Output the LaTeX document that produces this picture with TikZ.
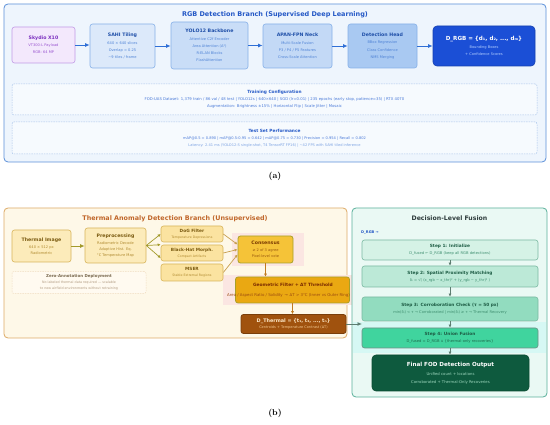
\documentclass[tikz,border=0pt]{standalone}
\usepackage{fontspec}
\newfontfamily\dvs{DejaVu Sans}
\usetikzlibrary{arrows.meta,calc}
% top
\definecolor{rgbbg}{HTML}{EEF5FD}
\definecolor{rgbborder}{HTML}{5B8FD9}
\definecolor{rgbtitle}{HTML}{2458C6}
\definecolor{skyfill}{HTML}{F3E8FC}
\definecolor{skyborder}{HTML}{C19BE6}
\definecolor{skytext}{HTML}{7B2FBF}
\definecolor{skysub}{HTML}{9A55D0}
\definecolor{bfillA}{HTML}{DCE9FA}
\definecolor{bfillB}{HTML}{C9DDF7}
\definecolor{bfillC}{HTML}{C3D9F6}
\definecolor{bfillD}{HTML}{A9C9F2}
\definecolor{bborder}{HTML}{86B0E8}
\definecolor{btitle}{HTML}{1F4FA8}
\definecolor{bsub}{HTML}{4F83D6}
\definecolor{drgbfill}{HTML}{1B4FD6}
\definecolor{drgbborder}{HTML}{1540B0}
\definecolor{drgbsub}{HTML}{B4CFFF}
\definecolor{arrblue}{HTML}{2F6FD6}
\definecolor{dashfill}{HTML}{F6FAFE}
\definecolor{dashborder}{HTML}{A8C4EA}
\definecolor{dashtext}{HTML}{4A7AD8}
\definecolor{dashlight}{HTML}{7CA2E2}
% thermal
\definecolor{thbg}{HTML}{FEF8E8}
\definecolor{thborder}{HTML}{DDAA66}
\definecolor{thtitle}{HTML}{C0662A}
\definecolor{tfillA}{HTML}{FCEBBA}
\definecolor{tborderA}{HTML}{D8B45A}
\definecolor{ttitleA}{HTML}{7A5A10}
\definecolor{tsubA}{HTML}{B08A30}
\definecolor{tfillB}{HTML}{FBE3A0}
\definecolor{consfill}{HTML}{F5C338}
\definecolor{consborder}{HTML}{A8A028}
\definecolor{constitle}{HTML}{7A3A00}
\definecolor{conssub}{HTML}{9A5A10}
\definecolor{geofill}{HTML}{EAA812}
\definecolor{geotitle}{HTML}{7A2A00}
\definecolor{geosubc}{HTML}{9A4A10}
\definecolor{dthfill}{HTML}{A0520E}
\definecolor{dthborder}{HTML}{7A3E0A}
\definecolor{dthtext}{HTML}{FDE8C8}
\definecolor{dthsub}{HTML}{F2C890}
\definecolor{arrolive}{HTML}{A39A2A}
\definecolor{arrtan}{HTML}{C8A050}
\definecolor{arrorange}{HTML}{C07A20}
\definecolor{pinkhl}{HTML}{FBE6E2}
\definecolor{zfill}{HTML}{FFFAF0}
\definecolor{zborder}{HTML}{F0DCC0}
\definecolor{ztitle}{HTML}{7A6A50}
\definecolor{ztext}{HTML}{B09A80}
% fusion
\definecolor{fubg}{HTML}{EAF9F4}
\definecolor{fuborder}{HTML}{5AB09A}
\definecolor{futitle}{HTML}{2D3B3B}
\definecolor{fuband}{HTML}{D6F8F4}
\definecolor{sfillA}{HTML}{D5F2E6}
\definecolor{sfillB}{HTML}{BCE9D7}
\definecolor{sfillC}{HTML}{92DCBF}
\definecolor{sfillD}{HTML}{40D49E}
\definecolor{sborder}{HTML}{7BB9A2}
\definecolor{sborderD}{HTML}{6F8F85}
\definecolor{stitle}{HTML}{1D5C44}
\definecolor{ssub}{HTML}{3F8F70}
\definecolor{ssubD}{HTML}{1D6A4C}
\definecolor{arrgreen}{HTML}{5D7D70}
\definecolor{finfill}{HTML}{0E5A3E}
\definecolor{finborder}{HTML}{0A4A30}
\definecolor{finsub}{HTML}{9ED8BE}
\newcommand\myT{\fontsize{4.7}{6}\selectfont\bfseries}
\newcommand\myTs{\fontsize{4.3}{6}\selectfont\bfseries}
\newcommand\myS{\fontsize{3.6}{7.2}\selectfont}
\newcommand\myX{\fontsize{3.2}{6}\selectfont}
\begin{document}
\begin{tikzpicture}[x=1pt,y=-1pt,font=\dvs,
  bx/.style={draw, rounded corners=2.5pt, line width=0.6pt, align=center, inner sep=0pt, font=\dvs\myS},
  panel/.style={draw, rounded corners=4pt, line width=0.8pt, inner sep=0pt},
  dbox/.style={draw=dashborder, dash pattern=on 1.5pt off 1pt, fill=dashfill, rounded corners=2pt, line width=0.5pt, align=center, inner sep=0pt},
  arr/.style={-{Latex[length=4.5pt,width=4pt]}, line width=0.9pt},
  sarr/.style={-{Latex[length=3pt,width=3pt]}, line width=0.7pt},
]
\useasboundingbox[fill=white] (0,0) rectangle (550,425);

% ---------------- (a) RGB branch
\node[panel, draw=rgbborder, fill=rgbbg, minimum width=542pt, minimum height=158pt] (toppanel) at (275,83) {};
\node[font=\dvs\fontsize{6.5}{8}\selectfont\bfseries, text=rgbtitle] (rgbttl) at (275,14.5) {RGB Detection Branch (Supervised Deep Learning)};

\node[bx, fill=skyfill, draw=skyborder, text=skysub, minimum width=63pt, minimum height=36pt] (sky) at (43.5,45)
  {{\myT\color{skytext}Skydio X10}\\VT300-L Payload\\RGB: 64 MP};
\node[bx, fill=bfillA, draw=bborder, text=bsub, minimum width=65pt, minimum height=44pt] (sahi) at (122.5,46)
  {{\myT\color{btitle}SAHI Tiling}\\640 × 640 slices\\Overlap = 0.25\\\textasciitilde9 tiles / frame};
\node[bx, fill=bfillB, draw=bborder, text=bsub, minimum width=77pt, minimum height=47pt] (yolo) at (209.5,45.5)
  {{\myT\color{btitle}YOLO12 Backbone}\\Attentive C2f Encoder\\Area Attention (A²)\\R-ELAN Blocks\\FlashAttention};
\node[bx, fill=bfillC, draw=bborder, text=bsub, minimum width=69pt, minimum height=44pt] (apan) at (297.5,46)
  {{\myT\color{btitle}APAN-FPN Neck}\\Multi-Scale Fusion\\P3 / P4 / P5 Features\\Cross-Scale Attention};
\node[bx, fill=bfillD, draw=bborder, text=bsub, minimum width=69pt, minimum height=44pt] (dhead) at (382.5,46)
  {{\myT\color{btitle}Detection Head}\\BBox Regression\\Class Confidence\\NMS Merging};
\node[bx, fill=drgbfill, draw=drgbborder, text=drgbsub, rounded corners=4pt, minimum width=102pt, minimum height=40pt] (drgb) at (484,46)
  {{\fontsize{5.6}{7}\selectfont\bfseries\color{white}D\_RGB = \{d₁, d₂, ..., dₘ\}}\\[1pt]Bounding Boxes\\+ Confidence Scores};

\draw[arr, draw=arrblue] (sky.east) -- (sky.east -| sahi.west);
\draw[arr, draw=arrblue] (sahi.east) -- (sahi.east -| yolo.west);
\draw[arr, draw=arrblue] (yolo.east) -- (yolo.east -| apan.west);
\draw[arr, draw=arrblue] (apan.east) -- (apan.east -| dhead.west);
\draw[arr, draw=arrblue] (dhead.east) -- (dhead.east -| drgb.west);

\node[dbox, minimum width=525pt, minimum height=31pt, text=dashtext, font=\dvs\fontsize{3.8}{7}\selectfont] (train) at (274.5,99.5)
  {{\fontsize{4.3}{6}\selectfont\bfseries\color{rgbtitle}Training Configuration}\\
   FOD-UAS Dataset: 1,379 train / 86 val / 48 test | YOLO12s | 640×640 | SGD (lr=0.01) | 235 epochs (early stop, patience=35) | RTX 4070\\
   Augmentation: Brightness ±15\% | Horizontal Flip | Scale Jitter | Mosaic};
\node[dbox, minimum width=525pt, minimum height=32pt, text=dashtext, font=\dvs\fontsize{3.6}{7}\selectfont] (test) at (274.5,138)
  {{\fontsize{4.3}{6}\selectfont\bfseries\color{rgbtitle}Test Set Performance}\\
   mAP@0.5 = 0.890 | mAP@0.5:0.95 = 0.642 | mAP@0.75 = 0.730 | Precision = 0.954 | Recall = 0.802\\
   {\color{dashlight}Latency: 2.41 ms (YOLO12-S single-shot, T4 TensorRT FP16) | \textasciitilde42 FPS with SAHI tiled inference}};

\node[font=\rmfamily\fontsize{8.5}{10}\selectfont\bfseries] (lbla) at (275,176) {(a)};

% ---------------- (b) thermal branch
\node[panel, draw=thborder, fill=thbg, minimum width=343pt, minimum height=130pt] (thpanel) at (175.5,273) {};
\node[font=\dvs\fontsize{6.4}{8}\selectfont\bfseries, text=thtitle] (thttl) at (175,218.5) {Thermal Anomaly Detection Branch (Unsupervised)};

\fill[pinkhl] (232,233) rectangle (304,266);
\fill[pinkhl] (223,275) rectangle (352,305);

\node[bx, fill=tfillA, draw=tborderA, text=tsubA, font=\dvs\fontsize{3.6}{6}\selectfont, minimum width=59pt, minimum height=32pt] (thimg) at (41.5,246)
  {{\myT\color{ttitleA}Thermal Image}\\[1.5pt]640 × 512 px\\Radiometric};
\node[bx, fill=tfillA, draw=tborderA, text=tsubA, font=\dvs\fontsize{3.6}{6}\selectfont, minimum width=61pt, minimum height=35pt] (prep) at (115.5,245.5)
  {{\myT\color{ttitleA}Preprocessing}\\[1.5pt]Radiometric Decode\\Adaptive Hist. Eq.\\°C Temperature Map};
\node[bx, fill=tfillB, draw=tborderA, text=tsubA, font=\dvs\myX, minimum width=62pt, minimum height=16pt] (dog) at (192,234)
  {{\myTs\color{ttitleA}DoG Filter}\\Temperature Depressions};
\node[bx, fill=tfillB, draw=tborderA, text=tsubA, font=\dvs\myX, minimum width=62pt, minimum height=16pt] (bh) at (192,253)
  {{\myTs\color{ttitleA}Black-Hat Morph.}\\Compact Artifacts};
\node[bx, fill=tfillB, draw=tborderA, text=tsubA, font=\dvs\myX, minimum width=62pt, minimum height=17pt] (mser) at (192,272.5)
  {{\myTs\color{ttitleA}MSER}\\Stable Extremal Regions};
\node[bx, fill=consfill, draw=consborder, line width=0.8pt, text=conssub, font=\dvs\fontsize{3.6}{6.5}\selectfont, minimum width=55pt, minimum height=27pt] (cons) at (265.5,249.5)
  {{\myT\color{constitle}Consensus}\\≥ 2 of 3 agree\\Pixel-level vote};
\node[bx, fill=geofill, draw=consborder, line width=0.8pt, minimum width=114pt, minimum height=26pt] (geo) at (292.5,290) {};
\node[font=\dvs\fontsize{4.4}{6}\selectfont\bfseries, text=geotitle, inner sep=0pt] (geottl) at (293,285) {Geometric Filter + ΔT Threshold};
\node[font=\dvs\fontsize{3.9}{6}\selectfont, text=geosubc, anchor=west, inner sep=0pt] (geosub) at (227,295) {Area / Aspect Ratio / Solidity \,→\, ΔT > 3°C (Inner vs Outer Ring)};
\node[bx, fill=dthfill, draw=dthborder, line width=0.8pt, text=dthsub, font=\dvs\fontsize{3.5}{6.5}\selectfont, minimum width=105pt, minimum height=19pt] (dth) at (293.5,324)
  {{\fontsize{4.9}{6}\selectfont\bfseries\color{dthtext}D\_Thermal = \{t₁, t₂, ..., tₙ\}}\\Centroids + Temperature Contrast (ΔT)};

\node[draw=zborder, dash pattern=on 1.5pt off 1pt, fill=zfill, rounded corners=2pt, line width=0.5pt, align=center, inner sep=0pt, minimum width=134pt, minimum height=22pt, text=ztext, font=\dvs\fontsize{3.3}{6}\selectfont] (zero) at (79,282.5)
  {{\fontsize{4}{6}\selectfont\bfseries\color{ztitle}Zero-Annotation Deployment}\\[0.5pt]No labeled thermal data required — scalable\\to new airfield environments without retraining};

\draw[arr, draw=arrolive] (thimg.east) -- (thimg.east -| prep.west);
\draw[sarr, draw=arrolive] (prep.east) -- (dog.west);
\draw[sarr, draw=arrolive] (prep.east) -- (bh.north west);
\draw[sarr, draw=arrolive] (prep.east) -- ($(bh.west)+(0,5)$);
\draw[sarr, draw=arrtan] (dog.east) -- ($(cons.west)+(0,-5)$);
\draw[sarr, draw=arrtan] (bh.east) -- (cons.west);
\draw[sarr, draw=arrtan] (mser.east) -- ($(cons.west)+(0,5)$);
\draw[sarr, draw=arrorange] (cons.south) -- (cons.south |- geo.north);
\draw[sarr, draw=arrorange] (geo.south) -- (geo.south |- dth.north);

% ---------------- fusion
\node[panel, draw=fuborder, fill=fubg, minimum width=195pt, minimum height=189pt] (fupanel) at (449.5,302.5) {};
\fill[fuband] (353,322) rectangle (546,353);
\node[font=\dvs\fontsize{6.2}{8}\selectfont\bfseries, text=futitle] (futtl) at (449.5,218.5) {Decision-Level Fusion};
\node[font=\dvs\fontsize{3.6}{5}\selectfont\bfseries, text=rgbtitle, anchor=west, inner sep=0pt] (drgbin) at (361,233) {D\_RGB →};

\node[bx, fill=sfillA, draw=sborder, text=ssub, font=\dvs\fontsize{3.7}{7}\selectfont, minimum width=176pt, minimum height=20pt] (s1) at (450,250)
  {{\myTs\color{stitle}Step 1: Initialize}\\D\_fused ← D\_RGB (keep all RGB detections)};
\node[bx, fill=sfillB, draw=sborder, text=ssub, font=\dvs\fontsize{3.7}{7}\selectfont, minimum width=176pt, minimum height=21pt] (s2) at (450,276.5)
  {{\myTs\color{stitle}Step 2: Spatial Proximity Matching}\\δᵢ = √( (x\_rgb − x\_thr)² + (y\_rgb − y\_thr)² )};
\node[bx, fill=sfillC, draw=sborder, text=ssub, font=\dvs\fontsize{3.7}{7.5}\selectfont, minimum width=176pt, minimum height=24pt] (s3) at (450,309)
  {{\myTs\color{stitle}Step 3: Corroboration Check (τ = 50 px)}\\min(δᵢ) < τ → Corroborated | min(δᵢ) ≥ τ → Thermal Recovery};
\node[bx, fill=sfillD, draw=sborderD, text=ssubD, font=\dvs\fontsize{3.7}{7}\selectfont, minimum width=176pt, minimum height=20pt] (s4) at (450,338)
  {{\myTs\color{stitle}Step 4: Union Fusion}\\D\_fused = D\_RGB ∪ \{thermal-only recoveries\}};
\node[bx, fill=finfill, draw=finborder, rounded corners=4pt, text=finsub, font=\dvs\fontsize{3.8}{8}\selectfont, minimum width=157pt, minimum height=36pt] (final) at (450.5,373)
  {{\fontsize{5.6}{7}\selectfont\bfseries\color{white}Final FOD Detection Output}\\[1pt]Unified count + locations\\Corroborated + Thermal-Only Recoveries};

\draw[sarr, draw=arrgreen] (s1.south) -- (s2.north);
\draw[sarr, draw=arrgreen] (s2.south) -- (s3.north);
\draw[sarr, draw=arrgreen] (s3.south) -- (s4.north);
\draw[sarr, draw=arrgreen] (s4.south) -- (s4.south |- final.north);

\coordinate (fusin) at (362,324);
\draw[arr, draw=arrgreen] (dth.east) -- (fusin);

\node[font=\rmfamily\fontsize{8.5}{10}\selectfont\bfseries] (lblb) at (275,413) {(b)};
\end{tikzpicture}
\end{document}
